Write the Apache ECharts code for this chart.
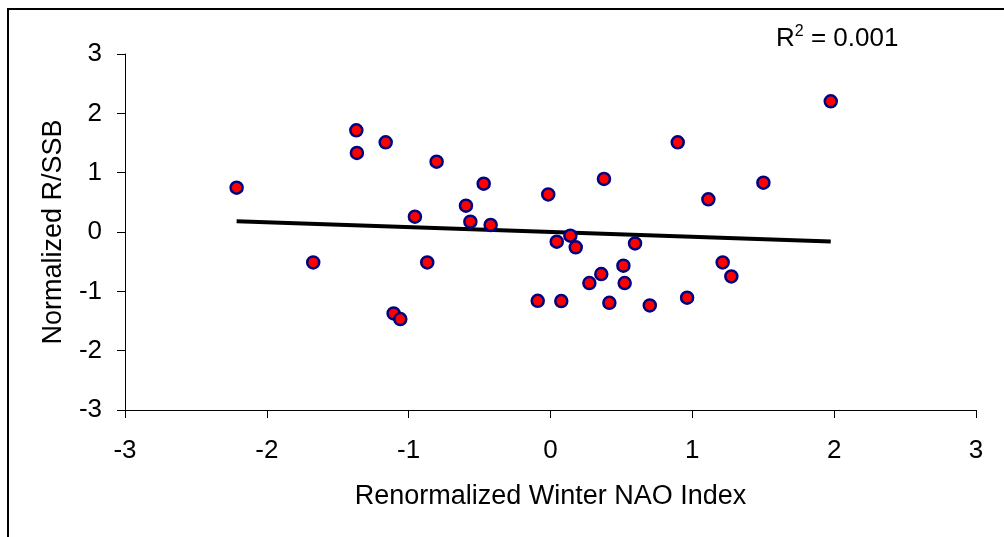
<!DOCTYPE html>
<html>
<head>
<meta charset="utf-8">
<script src="https://cdn.jsdelivr.net/npm/echarts@6/dist/echarts.min.js"></script>
<style>
html,body{margin:0;padding:0;background:#fff;}
#chart{width:1004px;height:537px;}
</style>
</head>
<body>
<div id="chart"></div>
<script>
// Data
const naoIndex = [-2.213, -1.673, -1.369, -1.365, -1.162, -0.803, -0.956, -0.869, -1.106, -1.059,
  -0.471, -0.596, -0.565, -0.422, -0.016, 0.044, -0.090, 0.076, 0.140, 0.178,
  0.377, 0.596, 0.514, 0.523, 0.358, 0.274, 0.415, 0.700, 0.963, 0.897,
  1.113, 1.501, 1.214, 1.275, 1.976];
const rssb = [0.747, -0.512, 1.713, 1.332, 1.511, 1.186, 0.258, -0.512, -1.372, -1.467,
  0.815, 0.444, 0.174, 0.118, 0.634, -0.164, -1.159, -1.164, -0.062, -0.259,
  0.894, -0.192, -0.568, -0.861, -0.709, -0.861, -1.193, -1.237, -1.108, 1.511,
  0.550, 0.831, -0.512, -0.748, 2.203];
const trendX = [-2.213, 1.976];
const trendY = [0.18, -0.16];
const axisTicks = [-3, -2, -1, 0, 1, 2, 3];
const rSquaredLabel = '0.001';
const xTitle = 'Renormalized Winter NAO Index';
const yTitle = 'Normalized R/SSB';

const FONT = 'Arial, "Liberation Sans", sans-serif';
const points = naoIndex.map((x, i) => [x, rssb[i]]);
const trend = trendX.map((x, i) => [x, trendY[i]]);

const chart = echarts.init(document.getElementById('chart'));
chart.setOption({
  backgroundColor: '#ffffff',
  animation: false,
  grid: { left: 125, right: 28, top: 54, bottom: 127 },
  xAxis: {
    type: 'value', min: axisTicks[0], max: axisTicks[axisTicks.length - 1], interval: 1,
    name: xTitle, nameLocation: 'middle', nameGap: 73,
    nameTextStyle: { fontFamily: FONT, fontSize: 27, color: '#000' },
    axisLine: { show: true, onZero: false, lineStyle: { color: '#000', width: 1 } },
    axisTick: { show: true, length: 8, lineStyle: { color: '#000', width: 1 } },
    axisLabel: { fontFamily: FONT, fontSize: 26, color: '#000', margin: 28 },
    splitLine: { show: false }
  },
  yAxis: {
    type: 'value', min: axisTicks[0], max: axisTicks[axisTicks.length - 1], interval: 1,
    name: yTitle, nameLocation: 'middle', nameGap: 58, nameRotate: 90,
    nameTextStyle: { fontFamily: FONT, fontSize: 27, color: '#000' },
    axisLine: { show: true, onZero: false, lineStyle: { color: '#000', width: 1 } },
    axisTick: { show: true, length: 8, lineStyle: { color: '#000', width: 1 } },
    axisLabel: { fontFamily: FONT, fontSize: 26, color: '#000', margin: 23 },
    splitLine: { show: false }
  },
  graphic: [
    {
      type: 'rect', silent: true, z: -1,
      shape: { x: 8, y: 9, width: 1200, height: 800 },
      style: { fill: 'none', stroke: '#000', lineWidth: 2 }
    },
    {
      type: 'text', left: 776, top: 24, silent: true,
      style: {
        text: 'R{sup|2} = ' + rSquaredLabel,
        font: '26px ' + FONT,
        fill: '#000',
        rich: {
          sup: { fontSize: 16, fontFamily: FONT, fill: '#000', verticalAlign: 'top', padding: [0, 0, 14, 0] }
        }
      }
    }
  ],
  series: [
    {
      type: 'line', data: trend, symbol: 'none', z: 2,
      lineStyle: { color: '#000', width: 4 }
    },
    {
      type: 'scatter', data: points, symbol: 'circle', symbolSize: 12, z: 3,
      itemStyle: { color: '#ff0000', borderColor: '#000080', borderWidth: 2.5, opacity: 1 }
    }
  ]
});
</script>
</body>
</html>
